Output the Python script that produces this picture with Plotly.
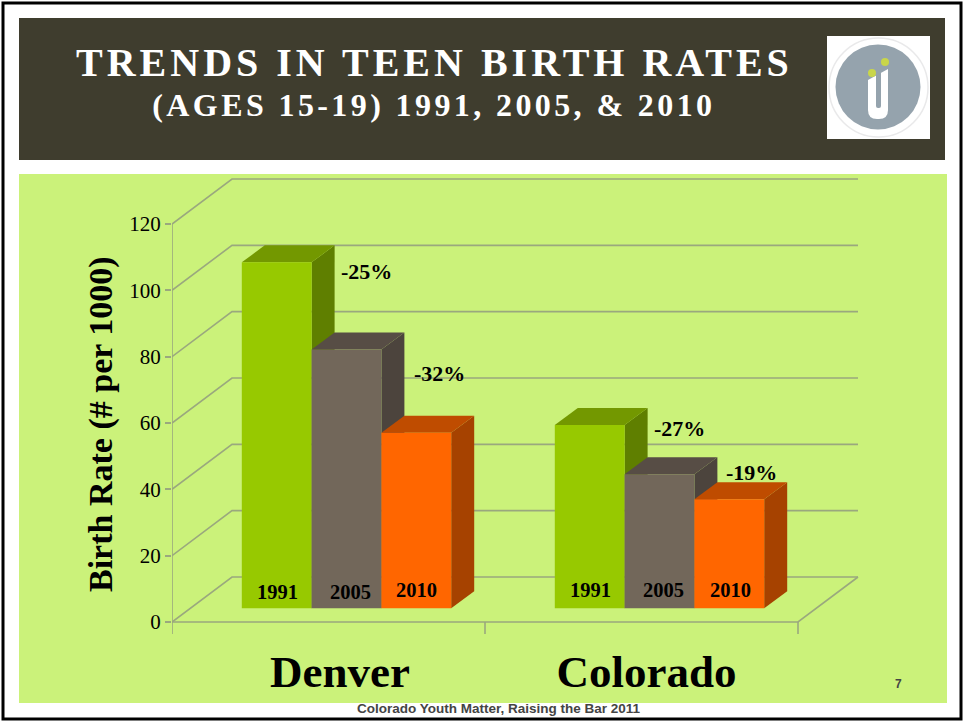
import plotly.graph_objects as go

# ---- data ----
groups = ["Denver", "Colorado"]
years = ["1991", "2005", "2010"]
denver_rates = [104.3, 78.0, 52.9]
colorado_rates = [55.3, 40.4, 32.9]
pct_labels = ["-25%", "-32%", "-27%", "-19%"]
y_ticks = [0, 20, 40, 60, 80, 100, 120]
x_bounds = [0, 1, 2]
group_label_pos = [0.537, 1.516]

# ---- page geometry ----
W, H = 965, 721
X0, X2, XR = 172, 798, 862
Y0, Y120, YT, YB = 622, 224, 177, 636
UX = (X2 - X0) / 2            # px per category
UY = (Y0 - Y120) / 120        # px per rate unit
WALL_DX, WALL_DY = 60 / UX, 45 / UY
BASE_DX, BASE_DY = 18 / UX, 13.7 / UY
SIDE_DX, SIDE_DY = 23 / UX, 17 / UY
BAR_W = 69.8 / UX
TICK_DOWN = 12 / UY

front = ["#97c900", "#72675a", "#ff6600"]
side = ["#5f7f00", "#4c443d", "#a64200"]
top = ["#739800", "#574d45", "#bf4c00"]
GRID = "#9aa87e"
PANEL = "#cbf27a"
TITLEBG = "#3f3d2e"
SERIF = "Liberation Serif"


def pxx(x):
    return x / W


def pxy(y):
    return 1 - y / H


fig = go.Figure()


def poly(xs, ys, color):
    fig.add_trace(go.Scatter(x=xs, y=ys, mode="lines", fill="toself", fillcolor=color,
                             line=dict(width=0, color=color), hoverinfo="skip",
                             showlegend=False))


def line(xs, ys, width=1.6):
    fig.add_trace(go.Scatter(x=xs, y=ys, mode="lines", line=dict(color=GRID, width=width),
                             hoverinfo="skip", showlegend=False))


# back wall and side gridlines
for v in y_ticks:
    line([0, WALL_DX, 2 + WALL_DX], [v, v + WALL_DY, v + WALL_DY])
line([0, 0], [0, 120])
line([0, 2, 2 + WALL_DX], [0, 0, WALL_DY])
for b in x_bounds:
    line([b, b], [0, -TICK_DOWN])

# bars, back to front, left to right
for g, rates in enumerate([denver_rates, colorado_rates]):
    for i, v in enumerate(rates):
        x0 = g + 0.5 + BASE_DX + (i - 1.5) * BAR_W
        x1 = x0 + BAR_W
        b = BASE_DY
        t = BASE_DY + v
        poly([x1, x1 + SIDE_DX, x1 + SIDE_DX, x1, x1],
             [b, b + SIDE_DY, t + SIDE_DY, t, b], side[i])
        poly([x0, x1, x1 + SIDE_DX, x0 + SIDE_DX, x0],
             [t, t, t + SIDE_DY, t + SIDE_DY, t], top[i])
        poly([x0, x1, x1, x0, x0], [b, b, t, t, b], front[i])

annotations = []


def label(px, py, text, size, color="black", bold=True, family=SERIF):
    annotations.append(dict(xref="paper", yref="paper", x=pxx(px), y=pxy(py), text=f"<b>{text}</b>" if bold else text,
                            showarrow=False, xanchor="center", yanchor="middle",
                            font=dict(family=family, size=size, color=color)))


# bar year labels
year_px = [277, 350, 416, 590, 663, 730]
year_py = [592, 592, 590, 590, 590, 590]
for k, (x, y) in enumerate(zip(year_px, year_py)):
    label(x, y, years[k % 3], 20.5)

# change labels
pct_px = [366, 439, 679, 751]
pct_py = [271, 373, 429, 472]
for t, x, y in zip(pct_labels, pct_px, pct_py):
    label(x, y, t, 22)

# titles and footer
label(434, 63, "TRENDS IN TEEN BIRTH RATES", 40, color="white")
label(434, 105, "(AGES 15-19) 1991, 2005, &amp; 2010", 32, color="white")
label(499, 708, "Colorado Youth Matter, Raising the Bar 2011", 13.5, color="#444444", family="Liberation Sans")
label(898, 684, "7", 12, color="#444444", family="Liberation Sans")
annotations.append(dict(xref="paper", yref="paper", x=pxx(101), y=pxy(424), text="<b>Birth Rate (# per 1000)</b>",
                        textangle=-90, showarrow=False, xanchor="center", yanchor="middle",
                        font=dict(family=SERIF, size=34, color="black")))


def rect(x0, y0, x1, y1, fill, line_color=None, lw=0):
    return dict(type="rect", xref="paper", yref="paper", x0=pxx(x0), x1=pxx(x1), y0=pxy(y0), y1=pxy(y1),
                fillcolor=fill, line=dict(color=line_color or fill, width=lw), layer="below")


def circle(cx, cy, r, fill, line_color=None, lw=0):
    return dict(type="circle", xref="paper", yref="paper", x0=pxx(cx - r), x1=pxx(cx + r), y0=pxy(cy - r),
                y1=pxy(cy + r), fillcolor=fill, line=dict(color=line_color or fill, width=lw), layer="below")


def u_path(xl, xr, ytl, ytr, ybase, r):
    d = f"M{pxx(xl)},{pxy(ytl)} L{pxx(xl)},{pxy(ybase)} "
    d += f"Q{pxx(xl)},{pxy(ybase + r)} {pxx(xl + r)},{pxy(ybase + r)} "
    d += f"L{pxx(xr - r)},{pxy(ybase + r)} Q{pxx(xr)},{pxy(ybase + r)} {pxx(xr)},{pxy(ybase)} "
    d += f"L{pxx(xr)},{pxy(ytr)} Z"
    return d


shapes = [
    rect(3, 3, 961, 719, "white", "black", 3),
    rect(19, 18, 945, 160, TITLEBG),
    rect(19, 174, 947, 703, PANEL),
    rect(827, 36, 930, 139, "white"),
    circle(878.5, 87.5, 49.5, "white", "#e9e9ea", 1.5),
    circle(878, 87, 42.5, "#95a3ad"),
    dict(type="path", xref="paper", yref="paper", path=u_path(868, 888, 80, 69, 110, 9), fillcolor="white",
         line=dict(width=0), layer="below"),
    dict(type="path", xref="paper", yref="paper", path=u_path(876, 881, 70, 70, 106, 2), fillcolor="#95a3ad",
         line=dict(width=0), layer="below"),
    circle(872, 73, 4, "#c9d64a"),
    circle(885, 62, 4, "#c9d64a"),
]

fig.update_layout(
    width=W, height=H, margin=dict(l=0, r=0, t=0, b=0), autosize=False,
    paper_bgcolor="white", plot_bgcolor="rgba(0,0,0,0)", showlegend=False,
    shapes=shapes, annotations=annotations,
    xaxis=dict(domain=[pxx(X0), pxx(XR)], range=[0, (XR - X0) / UX], showgrid=False, zeroline=False, showline=False,
               tickmode="array", tickvals=group_label_pos, ticktext=[f"<b>{g}</b>" for g in groups],
               ticks="", ticklabelstandoff=5, tickfont=dict(family=SERIF, size=45, color="black")),
    yaxis=dict(domain=[pxy(YB), pxy(YT)], range=[(Y0 - YB) / UY, (Y0 - YT) / UY], showgrid=False, zeroline=False,
               showline=False,
               tickmode="array", tickvals=y_ticks, ticks="outside", ticklen=6, tickcolor=GRID, tickwidth=1.6,
               tickfont=dict(family=SERIF, size=21, color="black")),
)

post = """
document.body.style.margin='0';
document.querySelectorAll('.annotation-text').forEach(function(t){
  if(t.textContent.indexOf('TRENDS')===0){t.style.letterSpacing='4px';}
  if(t.textContent.indexOf('(AGES')===0){t.style.letterSpacing='3.4px';}
});
"""
fig.write_html("out.html", post_script=post, default_width="965px", default_height="721px",
               config=dict(displayModeBar=False, responsive=False))
